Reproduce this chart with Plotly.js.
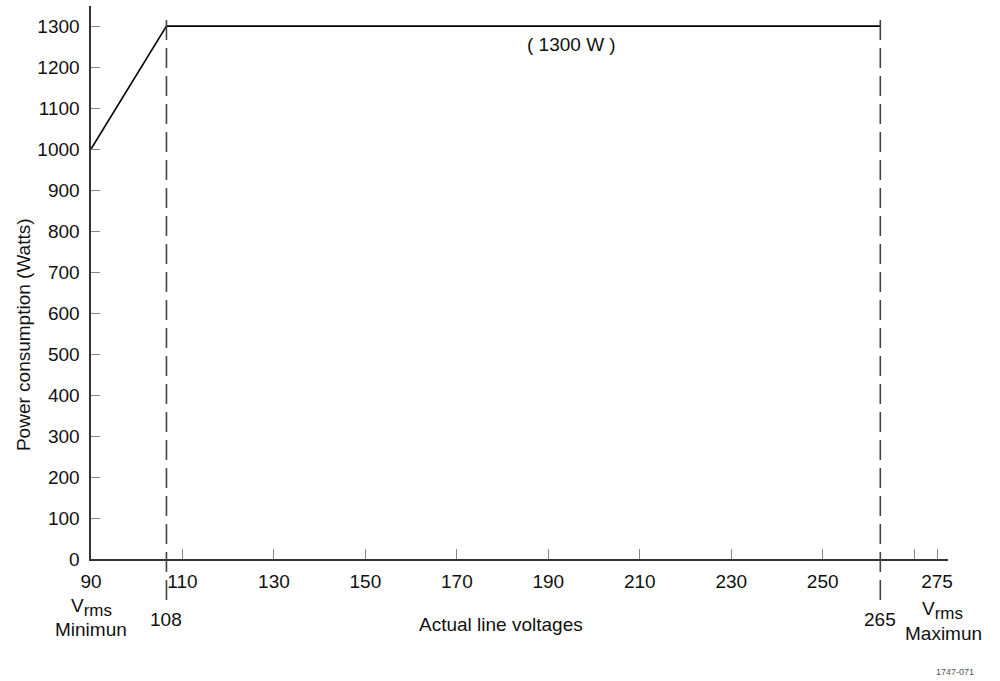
<!DOCTYPE html>
<html>
<head>
<meta charset="utf-8">
<script src="https://cdn.plot.ly/plotly-3.0.1.min.js"></script>
<style>html,body{margin:0;padding:0;background:#fff;}#chart{width:1000px;height:681px;}</style>
</head>
<body>
<div id="chart"></div>
<script>
// Power consumption curve (as drawn)
var voltage = [90, 106.5, 262.6];
var watts = [1000, 1300, 1300];
// Marked voltage limits (drawn positions) and their labels
var limitVoltages = [106.5, 262.6];
var limitLabels = ["108", "265"];
// Axis ticks
var xTickVals = [90, 110, 130, 150, 170, 190, 210, 230, 250, 270, 275];
var xTickText = ["90", "110", "130", "150", "170", "190", "210", "230", "250", " ", "275"];
var yTickVals = [0, 100, 200, 300, 400, 500, 600, 700, 800, 900, 1000, 1100, 1200, 1300];
var plateauLabel = "( 1300 W )";

var FONT = "Liberation Sans, Arial, sans-serif";
var TXT = "#111";
var VRMS = "V<sub><span style=\"font-size:17px\">rms</span></sub>";

var trace = {
  x: voltage, y: watts, type: "scatter", mode: "lines",
  line: {color: "#000", width: 1.6}, hoverinfo: "skip", showlegend: false
};

var shapes = limitVoltages.map(function (v) {
  return {type: "line", xref: "x", yref: "paper", x0: v, x1: v, y0: -0.074, y1: 0.98,
          line: {color: "#444", width: 1.6, dash: "20px,8px"}};
});

var annotations = [];
limitVoltages.forEach(function (v, i) {
  annotations.push({xref: "x", yref: "paper", x: v, y: -0.110, text: limitLabels[i],
    showarrow: false, xanchor: "center", yanchor: "middle", font: {family: FONT, size: 19, color: TXT}});
});
annotations.push({xref: "x", yref: "y", x: 195, y: 1254, text: plateauLabel, showarrow: false,
  xanchor: "center", yanchor: "middle", font: {family: FONT, size: 19, color: TXT}});
annotations.push({xref: "x", yref: "paper", x: 90, y: -0.087, text: VRMS, showarrow: false,
  xanchor: "center", yanchor: "middle", font: {family: FONT, size: 19, color: TXT}});
annotations.push({xref: "x", yref: "paper", x: 90, y: -0.128, text: "Minimun", showarrow: false,
  xanchor: "center", yanchor: "middle", font: {family: FONT, size: 19, color: TXT}});
annotations.push({xref: "x", yref: "paper", x: 276.1, y: -0.094, text: VRMS, showarrow: false,
  xanchor: "center", yanchor: "middle", font: {family: FONT, size: 19, color: TXT}});
annotations.push({xref: "x", yref: "paper", x: 276.4, y: -0.134, text: "Maximun", showarrow: false,
  xanchor: "center", yanchor: "middle", font: {family: FONT, size: 19, color: TXT}});
annotations.push({xref: "paper", yref: "paper", x: 0.478, y: -0.118, text: "Actual line voltages", showarrow: false,
  xanchor: "center", yanchor: "middle", font: {family: FONT, size: 19, color: TXT}});
annotations.push({xref: "paper", yref: "paper", x: -0.0793, y: 0.405, text: "Power consumption (Watts)", showarrow: false,
  textangle: -90, xanchor: "center", yanchor: "middle", font: {family: FONT, size: 19, color: TXT}});
annotations.push({xref: "paper", yref: "paper", x: 1.008, y: -0.204, text: "1747-071", showarrow: false,
  xanchor: "center", yanchor: "middle", font: {family: FONT, size: 9, color: "#555"}});

var layout = {
  width: 1000, height: 681,
  margin: {l: 91, r: 52, t: 6, b: 122, pad: 0},
  paper_bgcolor: "#fff", plot_bgcolor: "#fff",
  showlegend: false,
  font: {family: FONT, size: 19, color: TXT},
  xaxis: {
    range: [90, 277.4], tickmode: "array", tickvals: xTickVals, ticktext: xTickText,
    ticks: "inside", ticklen: 10, tickwidth: 1, tickcolor: "#888",
    showline: true, linecolor: "#333", linewidth: 1.6, showgrid: false, zeroline: false,
    tickfont: {family: FONT, size: 19, color: TXT}, ticklabelstandoff: 5, fixedrange: true
  },
  yaxis: {
    range: [0, 1349], tickmode: "array", tickvals: yTickVals,
    ticks: "inside", ticklen: 9, tickwidth: 1, tickcolor: "#888",
    showline: true, linecolor: "#333", linewidth: 1.6, showgrid: false, zeroline: false,
    tickfont: {family: FONT, size: 19, color: TXT}, ticklabelstandoff: 6, fixedrange: true
  },
  shapes: shapes,
  annotations: annotations
};

Plotly.newPlot("chart", [trace], layout, {displayModeBar: false, staticPlot: true});
</script>
</body>
</html>
